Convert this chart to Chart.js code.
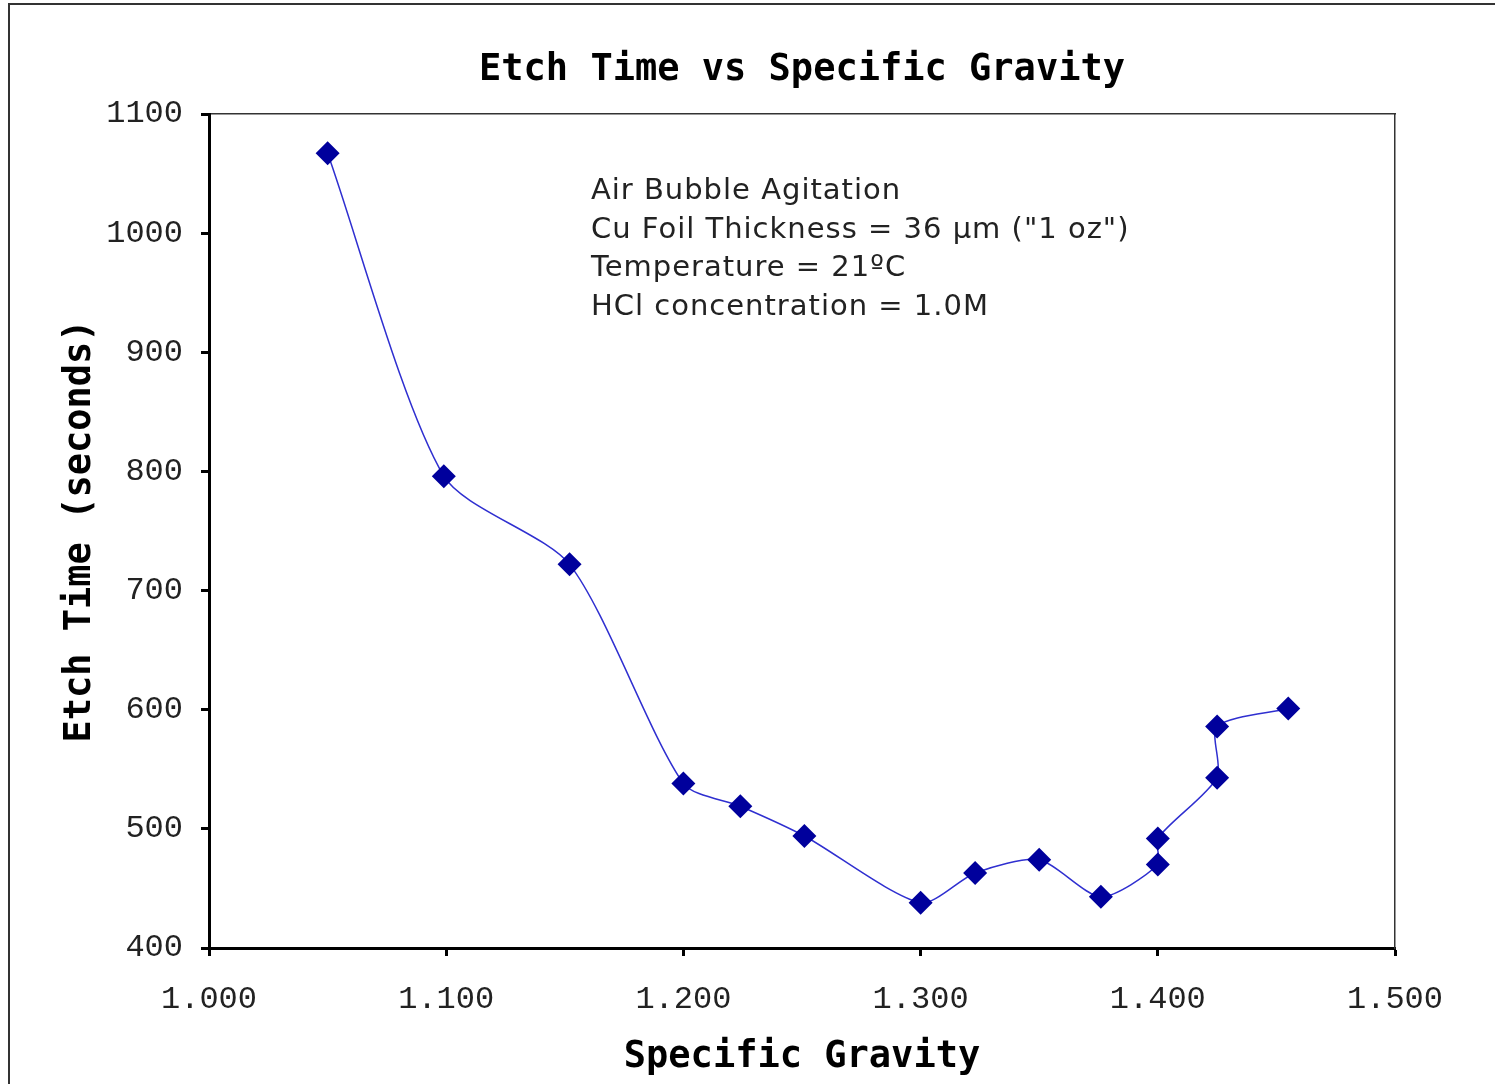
<!DOCTYPE html>
<html>
<head>
<meta charset="utf-8">
<script src="https://cdn.jsdelivr.net/npm/chart.js@4.4.1/dist/chart.umd.min.js"></script>
<style>
    body { margin: 0; background: #fff; overflow: hidden; }
    #frame {
        position: absolute; left: 8px; top: 3px; width: 1600px; height: 1200px;
        border-left: 2px solid #333; border-top: 2px solid #333;
    }
    #chart { position: absolute; left: 0; top: 0; }
</style>
</head>
<body>
<div id="frame"></div>
<canvas id="chart" width="1495" height="1084"></canvas>
<script>
// Specific gravity vs etch time (seconds)
const specificGravity = [1.050, 1.099, 1.152, 1.200, 1.224, 1.251, 1.300, 1.323, 1.350, 1.376, 1.400, 1.400, 1.425, 1.425, 1.455];
const etchTime = [1067, 796, 722, 538, 519, 494, 438, 463, 474, 443, 470, 492, 543, 586, 601];
const noteLines = [
    'Air Bubble Agitation',
    'Cu Foil Thickness = 36 \u00b5m ("1 oz")',
    'Temperature = 21\u00baC',
    'HCl concentration = 1.0M'
];

const monoBold = { family: "'DejaVu Sans Mono', monospace", size: 37, weight: 'bold', lineHeight: 1 };
const tickFont = { family: "'Liberation Mono', monospace", size: 32 };

// Draw the condition notes inside the plot
const notesPlugin = {
    id: 'notes',
    afterDatasetsDraw(chart) {
        const { ctx, scales } = chart;
        const x = scales.x.getPixelForValue(1.161);
        const y0 = scales.y.getPixelForValue(1035);
        ctx.save();
        ctx.font = "29px 'DejaVu Sans', sans-serif";
        ctx.letterSpacing = '1px';
        ctx.fillStyle = '#222';
        ctx.textBaseline = 'middle';
        noteLines.forEach((line, i) => ctx.fillText(line, x, y0 + i * 38.7));
        ctx.restore();
    }
};

new Chart(document.getElementById('chart'), {
    type: 'scatter',
    data: {
        datasets: [{
            data: specificGravity.map((sg, i) => ({ x: sg, y: etchTime[i] })),
            showLine: true,
            tension: 0.25,
            borderColor: '#2f2fd0',
            borderWidth: 1.5,
            pointStyle: 'rectRot',
            pointRadius: 12,
            pointBackgroundColor: '#00009c',
            pointBorderColor: '#00009c',
            pointBorderWidth: 0
        }]
    },
    options: {
        responsive: false,
        animation: false,
        layout: { padding: 0 },
        plugins: {
            legend: { display: false },
            tooltip: { enabled: false }
        },
        scales: {
            x: {
                type: 'linear',
                position: 'bottom',
                min: 1.0,
                max: 1.5,
                afterFit: s => { s.height = 136; },
                ticks: {
                    stepSize: 0.1,
                    padding: 24,
                    color: '#222',
                    font: tickFont,
                    callback: v => Number(v).toFixed(3)
                },
                grid: { display: true, drawOnChartArea: false, tickLength: 8, tickWidth: 3, tickColor: '#000' },
                border: { color: '#000', width: 3 },
                title: { display: true, text: 'Specific Gravity', color: '#000', font: monoBold, padding: { top: 0, bottom: 8 } }
            },
            xTop: {
                type: 'linear',
                position: 'top',
                min: 1.0,
                max: 1.5,
                afterFit: s => { s.height = 114; },
                ticks: { display: false },
                grid: { display: false },
                border: { color: '#333', width: 1.5 },
                title: { display: true, text: 'Etch Time vs Specific Gravity', color: '#000', font: monoBold, padding: { top: 52, bottom: 0 } }
            },
            y: {
                type: 'linear',
                position: 'left',
                min: 400,
                max: 1100,
                afterFit: s => { s.width = 209; },
                ticks: { stepSize: 100, padding: 18, color: '#222', font: tickFont, callback: v => String(v) },
                grid: { display: true, drawOnChartArea: false, tickLength: 8, tickWidth: 3, tickColor: '#000' },
                border: { color: '#000', width: 3 },
                title: { display: true, text: 'Etch Time (seconds)', color: '#000', font: monoBold, padding: { top: 62, bottom: 0 } }
            },
            yRight: {
                type: 'linear',
                position: 'right',
                min: 400,
                max: 1100,
                afterFit: s => { s.width = 100; },
                ticks: { display: false },
                grid: { display: false },
                border: { color: '#333', width: 1.5 }
            }
        }
    },
    plugins: [notesPlugin]
});
</script>
</body>
</html>
